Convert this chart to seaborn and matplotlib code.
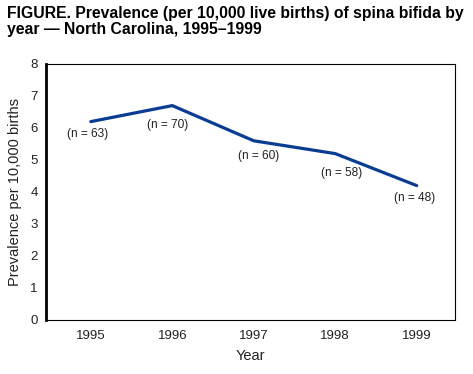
import matplotlib
matplotlib.use("Agg")
import matplotlib.pyplot as plt
import seaborn as sns
import pandas as pd

years = [1995, 1996, 1997, 1998, 1999]
prevalence = [6.2, 6.7, 5.6, 5.2, 4.2]
counts = [63, 70, 60, 58, 48]
label_offsets = [(-3, -12), (-5, -19), (5, -15), (6, -19), (-2, -12)]

sns.set_style("white")
plt.rcParams['font.family'] = ['Liberation Sans', 'DejaVu Sans']

df = pd.DataFrame({"Year": years, "Prevalence": prevalence})

fig = plt.figure(figsize=(4.73, 3.74), dpi=100)
ax = fig.add_axes([46/473, 54/374, (455-46)/473, (320-64)/374])
sns.lineplot(data=df, x="Year", y="Prevalence", ax=ax, color="#0b3c94", linewidth=2.3)

for x, y, n, (dx, dy) in zip(years, prevalence, counts, label_offsets):
    ax.annotate(f"(n = {n})", (x, y), xytext=(dx, dy), textcoords="offset pixels",
                ha="center", va="center", fontsize=8.6, color="#222222")

ax.set_xlim(1994.45, 1999.47)
ax.set_ylim(0, 8)
ax.set_xticks(years)
ax.set_xticklabels([str(y) for y in years])
ax.set_yticks(range(0, 9))
ax.tick_params(axis="both", direction="out", length=4, width=0.8, labelsize=9.5,
               colors="black", labelcolor="#222222")
ax.tick_params(axis="x", pad=3)
ax.tick_params(axis="y", pad=2)
for s in ["top", "right", "bottom"]:
    ax.spines[s].set_linewidth(0.8)
    ax.spines[s].set_color("black")
ax.spines["left"].set_linewidth(2)
ax.spines["left"].set_color("black")
ax.set_xlabel("Year", fontsize=10.5, labelpad=5, color="#222222")
ax.set_ylabel("Prevalence per 10,000 births", fontsize=10.5, labelpad=6, color="#222222")

fig.text(7/473, 1 - 6/374, "FIGURE. Prevalence (per 10,000 live births) of spina bifida by\nyear \u2014 North Carolina, 1995\u20131999",
         ha="left", va="top", fontsize=11.3, fontweight="bold", linespacing=1.1, color="black")

fig.savefig("out.png", dpi=100)
